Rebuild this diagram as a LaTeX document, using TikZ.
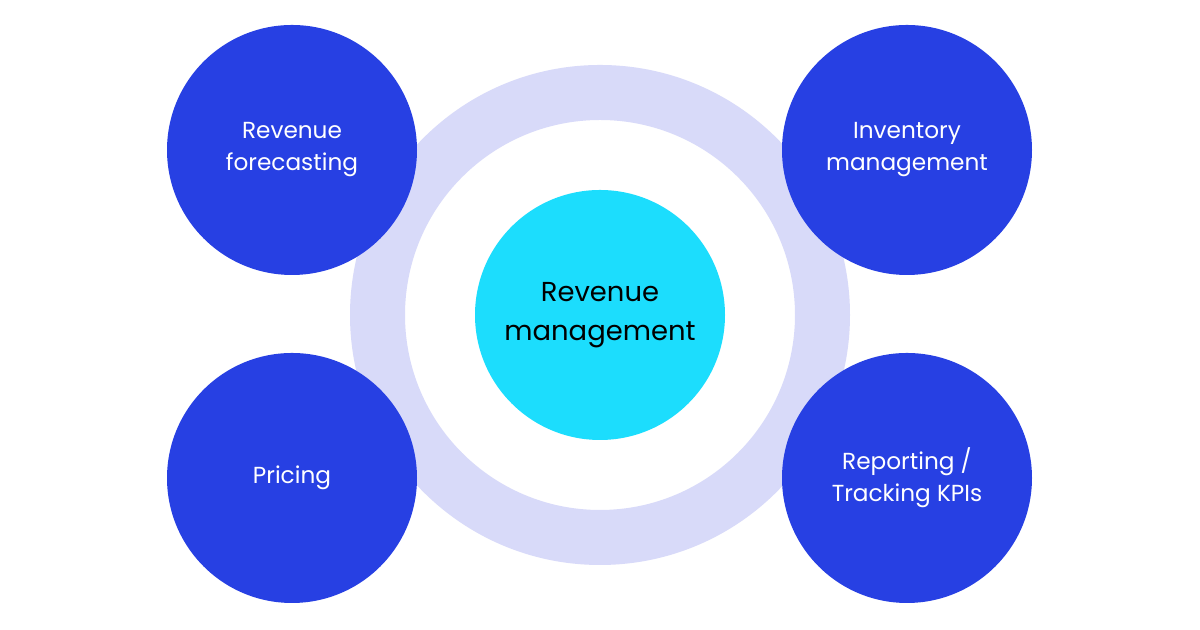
\documentclass[tikz,border=0pt]{standalone}
\usepackage{fontspec}
\setmainfont{Poppins}
\definecolor{ringblue}{HTML}{D8DAF9}
\definecolor{hubcyan}{HTML}{1CDDFD}
\definecolor{satblue}{HTML}{2740E3}
\begin{document}
\begin{tikzpicture}[satnode/.style={circle,fill=satblue,minimum size=2.5cm,inner sep=0pt,align=center,text=white,font=\fontsize{6.6}{9.1}\selectfont}]
	\useasboundingbox (0,0) rectangle (12,6.3);
	\fill[white] (0,0) rectangle (12,6.3);
	\fill[ringblue,even odd rule] (6,3.15) circle (2.5) (6,3.15) circle (1.95);
	\node[circle,fill=hubcyan,minimum size=2.5cm,inner sep=0pt,align=center,font=\fontsize{7.8}{11}\selectfont]	(hub)	at (6,3.15)		{Revenue\\management};
	\node[satnode]	(forecast)	at (2.92,4.8)	{Revenue\\forecasting};
	\node[satnode]	(inventory)	at (9.07,4.8)	{Inventory\\management};
	\node[satnode]	(pricing)	at (2.92,1.52)	{Pricing};
	\node[satnode]	(reporting)	at (9.07,1.52)	{Reporting /\\Tracking KPIs};
\end{tikzpicture}
\end{document}
